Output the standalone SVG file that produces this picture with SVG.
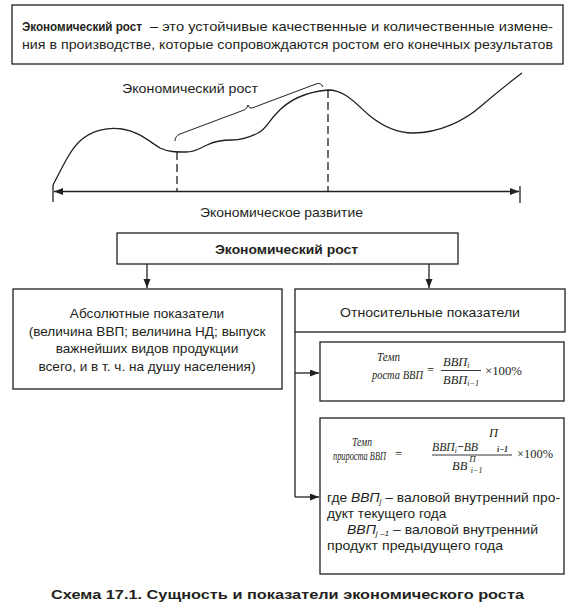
<svg xmlns="http://www.w3.org/2000/svg" width="571" height="612" viewBox="0 0 571 612">
<style>
.box{fill:#fff;stroke:#231f20;stroke-width:1.3}
.ln{fill:none;stroke:#231f20;stroke-width:1.3}
.t{font-family:"Liberation Sans",Arial,sans-serif;font-size:13.6px;fill:#231f20}
.b{font-weight:bold}
.m{font-family:"Liberation Serif","Times New Roman",serif;font-style:italic;font-size:12.5px;fill:#231f20}
.ml{font-family:"Liberation Serif","Times New Roman",serif;font-style:italic;font-size:11.5px;fill:#231f20}
.mu{font-family:"Liberation Serif","Times New Roman",serif;font-size:12.5px;fill:#231f20}
.s{font-size:8px}
</style>
<defs>
<marker id="ah" markerUnits="userSpaceOnUse" markerWidth="10" markerHeight="8" refX="9" refY="3.5" orient="auto-start-reverse">
<path d="M0,0 L9,3.5 L0,7 z" fill="#231f20"/>
</marker>
</defs>
<rect width="571" height="612" fill="#fff"/>

<g id="definition">
<rect class="box" x="12" y="5" width="551" height="59"/>
<text class="t b" x="22" y="31" font-size="13px" textLength="120" lengthAdjust="spacingAndGlyphs">Экономический рост</text>
<text class="t" x="150" y="31" font-size="13px" textLength="403" lengthAdjust="spacingAndGlyphs">– это устойчивые  качественные и количественные измене-</text>
<text class="t" x="22" y="49" font-size="13px" textLength="531" lengthAdjust="spacingAndGlyphs">ния в производстве, которые сопровождаются ростом его конечных результатов</text>
</g>

<g id="chart">
<path class="ln" d="M53,185 C62,168 70,150 80,141 C92,130 108,127 122,129 C138,131 150,142 160,148 C168,152 176,152 186,152 C196,152 200,148 207,145 C215,141 222,140 232,140 C242,140 250,137 258,133 C266,129 268,122 276,114 C288,100 305,92 328,90 C345,90 355,103 370,116 C385,128 398,133 413,133 C440,133 465,120 480,107 C495,94 510,82 522,73"/>
<path fill="none" stroke="#231f20" stroke-width="1" d="M175,141 Q175,136 180,134 L244,110 Q247,109 248,105 Q249,109 252,108 L316,84 Q321,82 323,87"/>
<line class="ln" x1="177" y1="152" x2="177" y2="191" stroke-dasharray="8,4"/>
<line class="ln" x1="328" y1="90" x2="328" y2="191" stroke-dasharray="8,4"/>
<text class="t" x="122" y="93" textLength="136" lengthAdjust="spacingAndGlyphs">Экономический рост</text>
<line class="ln" x1="53" y1="185" x2="53" y2="202"/>
<line class="ln" x1="520" y1="186" x2="520" y2="203"/>
<line class="ln" x1="54" y1="191.5" x2="519" y2="191.5" marker-start="url(#ah)" marker-end="url(#ah)"/>
<text class="t" x="200" y="217" textLength="163" lengthAdjust="spacingAndGlyphs">Экономическое развитие</text>
</g>

<g id="growth">
<rect class="box" x="117" y="233" width="341" height="31"/>
<text class="t b" x="215" y="254" textLength="143" lengthAdjust="spacingAndGlyphs">Экономический рост</text>
</g>

<g id="absolute">
<rect class="box" x="13" y="289" width="269" height="100"/>
<text class="t" x="147" y="318" text-anchor="middle">Абсолютные показатели</text>
<text class="t" x="147" y="335.5" text-anchor="middle">(величина ВВП; величина НД; выпуск</text>
<text class="t" x="147" y="353" text-anchor="middle">важнейших видов продукции</text>
<text class="t" x="147" y="370.5" text-anchor="middle">всего, и в т. ч. на душу населения)</text>
</g>

<g id="relative">
<rect class="box" x="295" y="289" width="270" height="43"/>
<text class="t" x="340" y="317" textLength="180" lengthAdjust="spacingAndGlyphs">Относительные показатели</text>
</g>

<g id="growth-rate">
<rect class="box" x="320" y="342" width="244" height="59"/>
<text class="ml" x="377" y="361" textLength="23" lengthAdjust="spacingAndGlyphs">Темп</text>
<text class="ml" x="372" y="379" textLength="51" lengthAdjust="spacingAndGlyphs">роста ВВП</text>
<text class="mu" x="427" y="374">=</text>
<text class="m" x="443" y="366">ВВП<tspan class="s" dy="2">i</tspan></text>
<line x1="441" y1="370.5" x2="481" y2="370.5" stroke="#231f20" stroke-width="0.9"/>
<text class="m" x="443" y="384">ВВП<tspan class="s" dy="2">i−1</tspan></text>
<text class="mu" x="485" y="375" textLength="37" lengthAdjust="spacingAndGlyphs">×100%</text>
</g>

<g id="increment-rate">
<rect class="box" x="320" y="418" width="244" height="156"/>
<text class="ml" x="352" y="446" fill="#4a4a4a" font-size="10.5px" textLength="20" lengthAdjust="spacingAndGlyphs">Темп</text>
<text class="ml" x="333" y="460" font-size="10px" textLength="53" lengthAdjust="spacingAndGlyphs">прироста ВВП</text>
<text class="mu" x="395" y="458">=</text>
<text class="m" x="432" y="451" textLength="46" lengthAdjust="spacingAndGlyphs">ВВП<tspan class="s" dy="2">i</tspan><tspan dy="-2" font-style="normal" font-weight="bold">−</tspan>ВВ</text>
<text class="m" x="489" y="437">П</text>
<text class="m s" x="497" y="452" font-weight="bold">i−1</text>
<line x1="432" y1="455" x2="512" y2="455" stroke="#231f20" stroke-width="0.9"/>
<text class="m" x="452" y="470" font-size="12px">ВВ<tspan font-size="9px" dx="2" dy="-8">П</tspan><tspan class="s" dx="-5" dy="11">i−1</tspan></text>
<text class="mu" x="517" y="458" textLength="36" lengthAdjust="spacingAndGlyphs">×100%</text>
<text class="t" x="327" y="502" textLength="233" lengthAdjust="spacingAndGlyphs">где <tspan font-style="italic">ВВП</tspan><tspan class="s" font-style="italic" dy="2">j</tspan><tspan dy="-2"> – валовой внутренний про-</tspan></text>
<text class="t" x="327" y="518">дукт текущего года</text>
<text class="t" x="347" y="534" textLength="191" lengthAdjust="spacingAndGlyphs"><tspan font-style="italic">ВВП</tspan><tspan class="s" font-style="italic" dy="2">j –1</tspan><tspan dy="-2"> – валовой внутренний</tspan></text>
<text class="t" x="327" y="550" textLength="176" lengthAdjust="spacingAndGlyphs">продукт предыдущего года</text>
</g>

<g id="connectors">
<line class="ln" x1="147" y1="264" x2="147" y2="288" marker-end="url(#ah)"/>
<line class="ln" x1="429" y1="264" x2="429" y2="288" marker-end="url(#ah)"/>
<polyline class="ln" points="295,332 295,497"/>
<line class="ln" x1="295" y1="373" x2="319" y2="373" marker-end="url(#ah)"/>
<line class="ln" x1="295" y1="497" x2="319" y2="497" marker-end="url(#ah)"/>
</g>

<text class="t b" x="287.5" y="599" text-anchor="middle" font-size="16px" textLength="473" lengthAdjust="spacingAndGlyphs">Схема 17.1. Сущность и показатели экономического роста</text>
</svg>
